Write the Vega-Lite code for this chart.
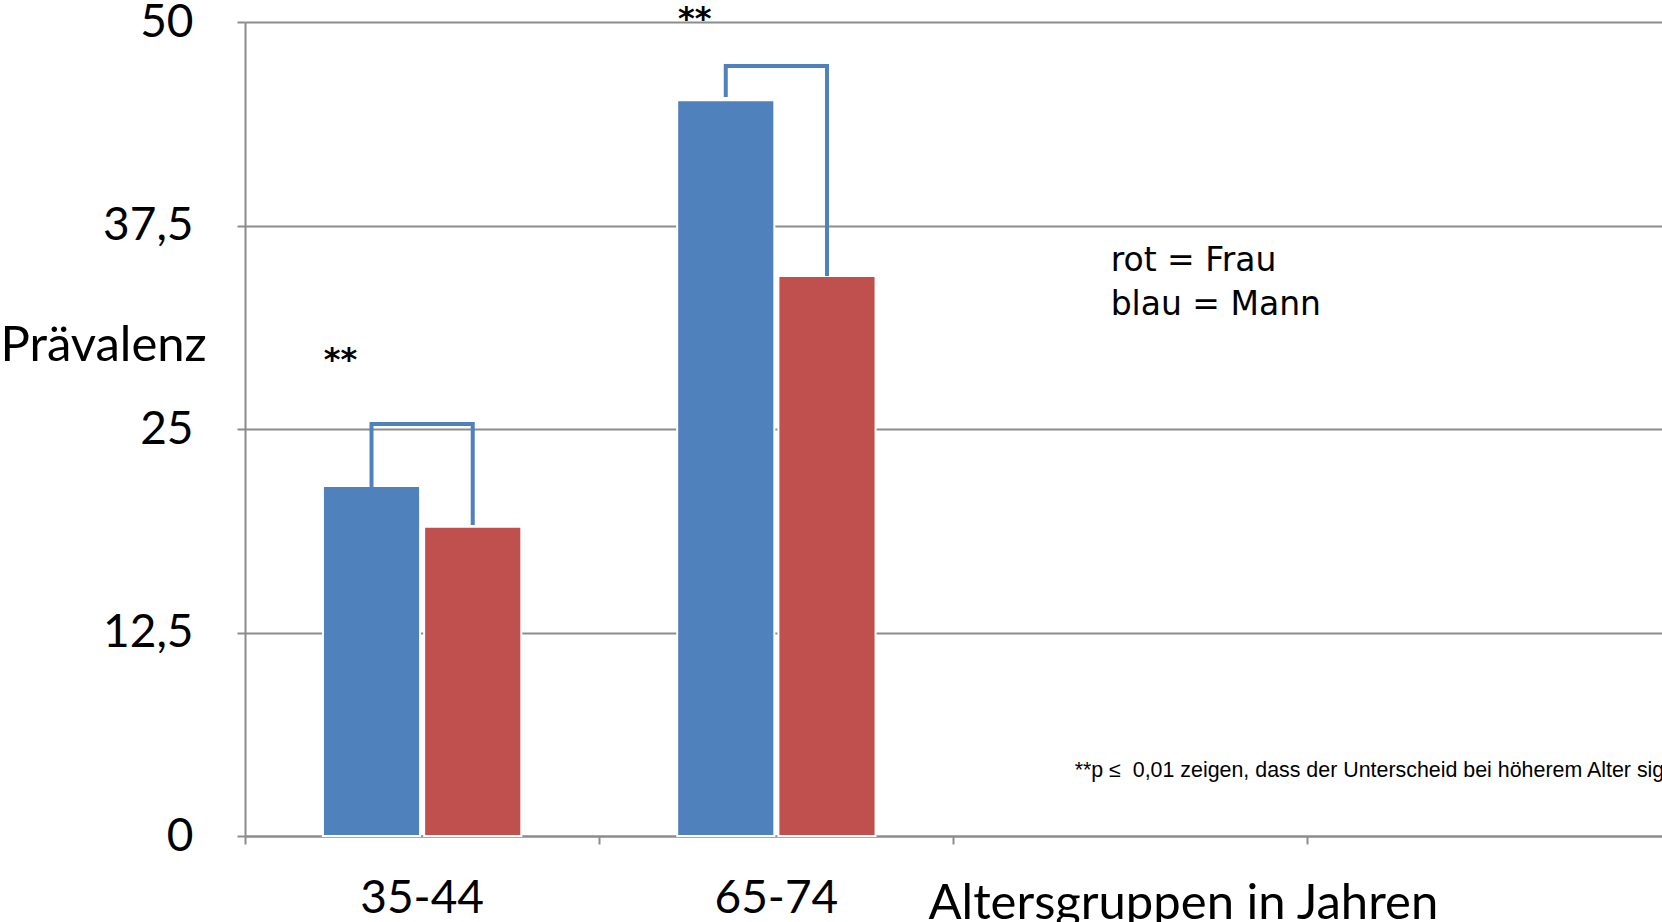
{
  "$schema": "https://vega.github.io/schema/vega-lite/v6.json",
  "width": 1417,
  "height": 814,
  "autosize": {"type": "none"},
  "padding": {"left": 245, "top": 22, "right": 0, "bottom": 86},
  "background": "white",
  "config": {"view": {"stroke": null}, "font": "Lato"},
  "datasets": {
    "balken": [
      {"Altersgruppe": "35-44", "Geschlecht": "Mann", "wert": 21.5},
      {"Altersgruppe": "35-44", "Geschlecht": "Frau", "wert": 19.0},
      {"Altersgruppe": "65-74", "Geschlecht": "Mann", "wert": 45.2},
      {"Altersgruppe": "65-74", "Geschlecht": "Frau", "wert": 34.4}
    ],
    "klammern": [
      {"Altersgruppe": "35-44", "Geschlecht": "Mann", "wert": 21.4, "schritt": 1},
      {"Altersgruppe": "35-44", "Geschlecht": "Mann", "wert": 25.3, "schritt": 2},
      {"Altersgruppe": "35-44", "Geschlecht": "Frau", "wert": 25.3, "schritt": 3},
      {"Altersgruppe": "35-44", "Geschlecht": "Frau", "wert": 19.1, "schritt": 4},
      {"Altersgruppe": "65-74", "Geschlecht": "Mann", "wert": 45.4, "schritt": 1},
      {"Altersgruppe": "65-74", "Geschlecht": "Mann", "wert": 47.3, "schritt": 2},
      {"Altersgruppe": "65-74", "Geschlecht": "Frau", "wert": 47.3, "schritt": 3},
      {"Altersgruppe": "65-74", "Geschlecht": "Frau", "wert": 34.4, "schritt": 4}
    ],
    "sterne": [
      {"Altersgruppe": "35-44", "Geschlecht": "Mann", "wert": 28.6, "text": "**"},
      {"Altersgruppe": "65-74", "Geschlecht": "Mann", "wert": 49.6, "text": "**"}
    ],
    "legende": [
      {"Altersgruppe": "c", "wert": 34.7, "text": "rot = Frau"},
      {"Altersgruppe": "c", "wert": 32.0, "text": "blau = Mann"}
    ],
    "fussnote": [
      {"Altersgruppe": "c", "wert": 3.6, "text": "**p ≤\u00a0 0,01 zeigen, dass der Unterscheid bei höherem Alter signifikant ist"}
    ]
  },
  "layer": [
    {
      "data": {"name": "balken"},
      "mark": {"type": "bar", "stroke": "white", "strokeWidth": 2},
      "encoding": {
        "x": {
          "field": "Altersgruppe", "type": "nominal",
          "scale": {"domain": ["35-44", "65-74", "c", "d"], "paddingInner": 0, "paddingOuter": 0},
          "axis": {
            "title": "Altersgruppen in Jahren",
            "titleX": 683, "titleY": 82, "titleAlign": "left", "titleBaseline": "alphabetic",
            "titleFont": "Lato", "titleFontSize": 49, "titleFontWeight": "normal", "titleColor": "black",
            "labelExpr": "datum.value == 'c' || datum.value == 'd' ? '' : datum.label",
            "labelAngle": 0, "labelFont": "Lato", "labelFontSize": 46, "labelColor": "black", "labelPadding": 32,
            "bandPosition": 0, "tickSize": 8, "tickColor": "#8c8c8c", "tickWidth": 2,
            "domainColor": "#8c8c8c", "domainWidth": 2, "grid": false
          }
        },
        "xOffset": {
          "field": "Geschlecht", "type": "nominal",
          "scale": {"domain": ["Mann", "Frau"], "paddingInner": 0.04, "paddingOuter": 0.77}
        },
        "y": {
          "field": "wert", "type": "quantitative",
          "scale": {"domain": [0, 50], "nice": false},
          "axis": {
            "title": "Prävalenz",
            "titleAngle": 0, "titleAlign": "left", "titleBaseline": "alphabetic",
            "titleX": -245, "titleY": 338,
            "titleFont": "Lato", "titleFontSize": 49, "titleFontWeight": "normal", "titleColor": "black",
            "values": [0, 12.5, 25, 37.5, 50],
            "format": ".1~f",
            "labelExpr": "replace(datum.label, '.', ',')",
            "labelFont": "Lato", "labelFontSize": 46, "labelColor": "black", "labelPadding": 44,
            "tickSize": 8, "tickColor": "#8c8c8c", "tickWidth": 2,
            "domainColor": "#8c8c8c", "domainWidth": 2,
            "grid": true, "gridColor": "#8c8c8c", "gridWidth": 2
          }
        },
        "color": {
          "field": "Geschlecht", "type": "nominal",
          "scale": {"domain": ["Mann", "Frau"], "range": ["#4F81BD", "#C0504D"]},
          "legend": null
        }
      }
    },
    {
      "data": {"name": "klammern"},
      "mark": {"type": "line", "color": "#4F81BD", "strokeWidth": 4, "strokeJoin": "miter", "strokeCap": "butt"},
      "encoding": {
        "x": {"field": "Altersgruppe", "type": "nominal"},
        "xOffset": {"field": "Geschlecht", "type": "nominal"},
        "y": {"field": "wert", "type": "quantitative"},
        "detail": {"field": "Altersgruppe"},
        "order": {"field": "schritt", "type": "quantitative"}
      }
    },
    {
      "data": {"name": "sterne"},
      "mark": {"type": "text", "font": "DejaVu Sans", "fontWeight": "bold", "fontSize": 32, "color": "black", "align": "center", "baseline": "alphabetic", "dx": -31},
      "encoding": {
        "x": {"field": "Altersgruppe", "type": "nominal"},
        "xOffset": {"field": "Geschlecht", "type": "nominal"},
        "y": {"field": "wert", "type": "quantitative"},
        "text": {"field": "text"}
      }
    },
    {
      "data": {"name": "legende"},
      "mark": {"type": "text", "font": "DejaVu Sans", "fontSize": 33, "color": "black", "align": "left", "baseline": "alphabetic", "dx": -20},
      "encoding": {
        "x": {"field": "Altersgruppe", "type": "nominal"},
        "y": {"field": "wert", "type": "quantitative"},
        "text": {"field": "text"}
      }
    },
    {
      "data": {"name": "fussnote"},
      "mark": {"type": "text", "font": "Liberation Sans", "fontSize": 21.4, "color": "black", "align": "left", "baseline": "alphabetic", "dx": -56},
      "encoding": {
        "x": {"field": "Altersgruppe", "type": "nominal"},
        "y": {"field": "wert", "type": "quantitative"},
        "text": {"field": "text"}
      }
    }
  ]
}
